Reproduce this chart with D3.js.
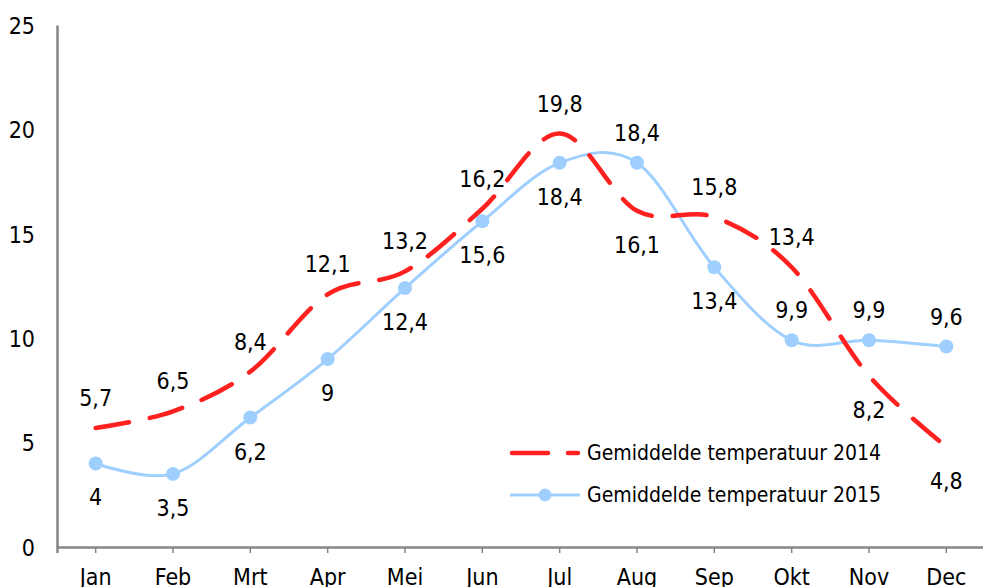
<!DOCTYPE html>
<html>
<head>
<meta charset="utf-8">
<script src="https://cdn.jsdelivr.net/npm/d3@7"></script>
<style>
body{margin:0;background:#fff;}
text{font-family:"DejaVu Sans Condensed","DejaVu Sans",sans-serif;font-stretch:condensed;fill:#000;}
</style>
</head>
<body>
<svg width="983" height="587"></svg>
<script>
"use strict";

var months=["Jan","Feb","Mrt","Apr","Mei","Jun","Jul","Aug","Sep","Okt","Nov","Dec"];
var temp2014=[5.7,6.5,8.4,12.1,13.2,16.2,19.8,16.1,15.8,13.4,8.2,4.8];
var temp2015=[4,3.5,6.2,9,12.4,15.6,18.4,18.4,13.4,9.9,9.9,9.6];
var labelPos2014=["up","up","up","up","up","up","up","down","up","up","down","down"];
var labelPos2015=["down","down","down","down","down","down","down","up","down","up","up","up"];
var yTicks=[0,5,10,15,20,25];
var seriesNames=["Gemiddelde temperatuur 2014","Gemiddelde temperatuur 2015"];

var svg=d3.select("svg");

var xScale=d3.scaleBand().domain(months).range([57,985]);
var yScale=d3.scaleLinear().domain([0,25]).range([547,25]);
function cx(m){return xScale(m)+xScale.bandwidth()/2;}

// y axis
var yAxis=svg.append("g")
	.attr("transform","translate(57,0)")
	.call(d3.axisLeft(yScale).tickValues(yTicks).tickSize(0).tickPadding(22));
yAxis.select(".domain").attr("stroke","#868686").attr("stroke-width",2.5);
yAxis.selectAll("text").style("font-size","23px").attr("dy","0.36em");

// x axis
var xAxis=svg.append("g")
	.attr("transform","translate(0,547)")
	.call(d3.axisBottom(xScale).tickSize(6).tickPadding(16));
xAxis.select(".domain").attr("stroke","#868686").attr("stroke-width",2.5);
xAxis.selectAll("line").attr("stroke","#868686").attr("stroke-width",1.5);
xAxis.selectAll("text").style("font-size","23px");

var line=d3.line()
	.x(function(d,i){return cx(months[i]);})
	.y(function(d){return yScale(d);})
	.curve(d3.curveCatmullRom.alpha(0));

svg.append("path")
	.attr("d",line(temp2015))
	.attr("fill","none")
	.attr("stroke","#9fcfff")
	.attr("stroke-width",3);

svg.selectAll(".dot15")
	.data(temp2015)
	.enter()
	.append("circle")
	.attr("cx",function(d,i){return cx(months[i]);})
	.attr("cy",function(d){return yScale(d);})
	.attr("r",7)
	.attr("fill","#9fcfff");

svg.append("path")
	.attr("d",line(temp2014))
	.attr("fill","none")
	.attr("stroke","#ff2020")
	.attr("stroke-width",4.5)
	.attr("stroke-linecap","round")
	.attr("stroke-dasharray","34,21");

function fmt(v){return String(v).replace(".",",");}

function addLabels(vals,pos){
	svg.append("g")
		.selectAll("text")
		.data(vals)
		.enter()
		.append("text")
		.attr("x",function(d,i){return cx(months[i]);})
		.attr("y",function(d,i){return yScale(d)+(pos[i]==="up"?-22:42);})
		.attr("text-anchor","middle")
		.style("font-size","23px")
		.text(fmt);
}
addLabels(temp2014,labelPos2014);
addLabels(temp2015,labelPos2015);

// legend
var leg=svg.append("g");
leg.append("line")
	.attr("x1",512).attr("x2",578).attr("y1",453).attr("y2",453)
	.attr("stroke","#ff2020").attr("stroke-width",4.5)
	.attr("stroke-linecap","round").attr("stroke-dasharray","36,20");
leg.append("line")
	.attr("x1",510).attr("x2",580).attr("y1",495).attr("y2",495)
	.attr("stroke","#9fcfff").attr("stroke-width",3);
leg.append("circle")
	.attr("cx",545).attr("cy",495).attr("r",6.5).attr("fill","#9fcfff");
leg.selectAll("text")
	.data(seriesNames)
	.enter()
	.append("text")
	.attr("x",587)
	.attr("y",function(d,i){return 460+i*42;})
	.style("font-size","21px")
	.text(function(d){return d;});
</script>
</body>
</html>
